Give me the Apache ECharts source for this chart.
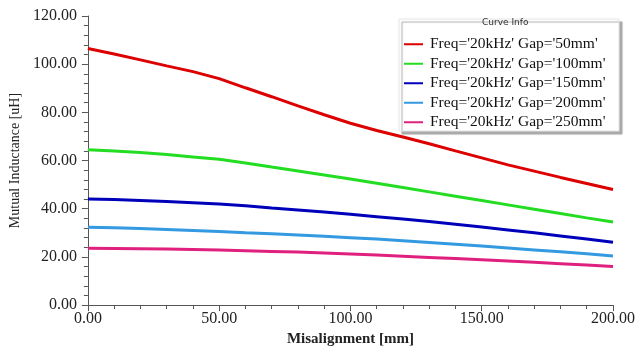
<!DOCTYPE html>
<html>
<head>
<meta charset="utf-8">
<script src="https://cdn.jsdelivr.net/npm/echarts@6/dist/echarts.min.js"></script>
<style>html,body{margin:0;padding:0;background:#fff;}#c{width:638px;height:352px;}</style>
</head>
<body>
<div id="c"></div>
<script>
const misalignment = [0,10,20,30,40,50,60,70,80,90,100,110,120,130,140,150,160,170,180,190,200];
const gap50  = [106.5,104.2,101.8,99.3,96.9,94.0,90.2,86.5,82.7,79.0,75.5,72.5,69.8,67.0,64.0,61.1,58.2,55.6,53.0,50.5,48.0];
const gap100 = [64.5,64.0,63.3,62.5,61.5,60.5,59.0,57.3,55.7,54.0,52.3,50.6,48.8,47.0,45.2,43.4,41.6,39.8,38.0,36.2,34.5];
const gap150 = [44.0,43.8,43.4,43.0,42.5,42.0,41.2,40.3,39.5,38.6,37.7,36.7,35.7,34.7,33.6,32.4,31.2,30.0,28.7,27.4,26.1];
const gap200 = [32.3,32.1,31.8,31.4,31.0,30.5,30.0,29.6,29.1,28.6,28.0,27.4,26.7,26.0,25.3,24.5,23.7,22.9,22.1,21.3,20.4];
const gap250 = [23.6,23.5,23.4,23.3,23.1,22.9,22.6,22.3,22.0,21.6,21.2,20.8,20.3,19.8,19.3,18.8,18.3,17.8,17.2,16.6,16.0];
const seriesNames = ["Freq='20kHz' Gap='50mm'","Freq='20kHz' Gap='100mm'","Freq='20kHz' Gap='150mm'","Freq='20kHz' Gap='200mm'","Freq='20kHz' Gap='250mm'"];
const seriesColors = ['#dd0000','#22dd22','#0000bb','#3399e0','#e0207f'];
const seriesValues = [gap50,gap100,gap150,gap200,gap250];

const chart = echarts.init(document.getElementById('c'));
const serif = '"Liberation Serif","Times New Roman",serif';
chart.setOption({
  animation:false,
  backgroundColor:'#ffffff',
  grid:{left:84,right:22,top:16,bottom:42},
  xAxis:{
    type:'value',min:0,max:200,interval:50,
    name:'Misalignment [mm]',nameLocation:'middle',nameGap:26,
    nameTextStyle:{fontFamily:serif,fontSize:15,color:'#222',fontWeight:'bold'},
    axisLine:{lineStyle:{color:'#555',width:1}},
    axisTick:{show:true,length:6,lineStyle:{color:'#555'}},
    minorTick:{show:true,splitNumber:5,length:4,lineStyle:{color:'#555'}},
    splitLine:{show:false},
    axisLabel:{fontFamily:serif,fontSize:16,color:'#222',margin:6,formatter:v=>v.toFixed(2)}
  },
  yAxis:{
    type:'value',min:0,max:120,interval:20,
    name:'Mutual Inductance [uH]',nameLocation:'middle',nameGap:65,
    nameTextStyle:{fontFamily:serif,fontSize:14,color:'#222'},
    axisLine:{show:true,lineStyle:{color:'#555',width:1}},
    axisTick:{show:true,length:6,lineStyle:{color:'#555'}},
    minorTick:{show:true,splitNumber:5,length:4,lineStyle:{color:'#555'}},
    splitLine:{show:false},
    axisLabel:{fontFamily:serif,fontSize:16,color:'#222',margin:11,formatter:v=>v.toFixed(2)}
  },
  legend:{
    orient:'vertical',left:399,top:31,
    icon:'rect',itemWidth:19,itemHeight:2,itemGap:3,
    textStyle:{fontFamily:serif,fontSize:15.5,color:'#111',lineHeight:16.5,padding:[0,0,0,2]},
    data:seriesNames
  },
  graphic:[
    {type:'rect',z:-1,shape:{x:399,y:19,width:220,height:112},style:{fill:'#ffffff',stroke:'#e4e4e4',lineWidth:1,shadowBlur:1,shadowOffsetX:3,shadowOffsetY:3,shadowColor:'#aaaaaa'}},
    {type:'text',left:482,top:18,style:{text:'Curve Info',font:'9px "DejaVu Sans",sans-serif',fill:'#333'}}
  ],
  series:seriesNames.map((n,i)=>({
    name:n,type:'line',showSymbol:false,smooth:false,
    lineStyle:{color:seriesColors[i],width:3},
    itemStyle:{color:seriesColors[i]},
    data:misalignment.map((x,j)=>[x,seriesValues[i][j]])
  }))
});
</script>
</body>
</html>
